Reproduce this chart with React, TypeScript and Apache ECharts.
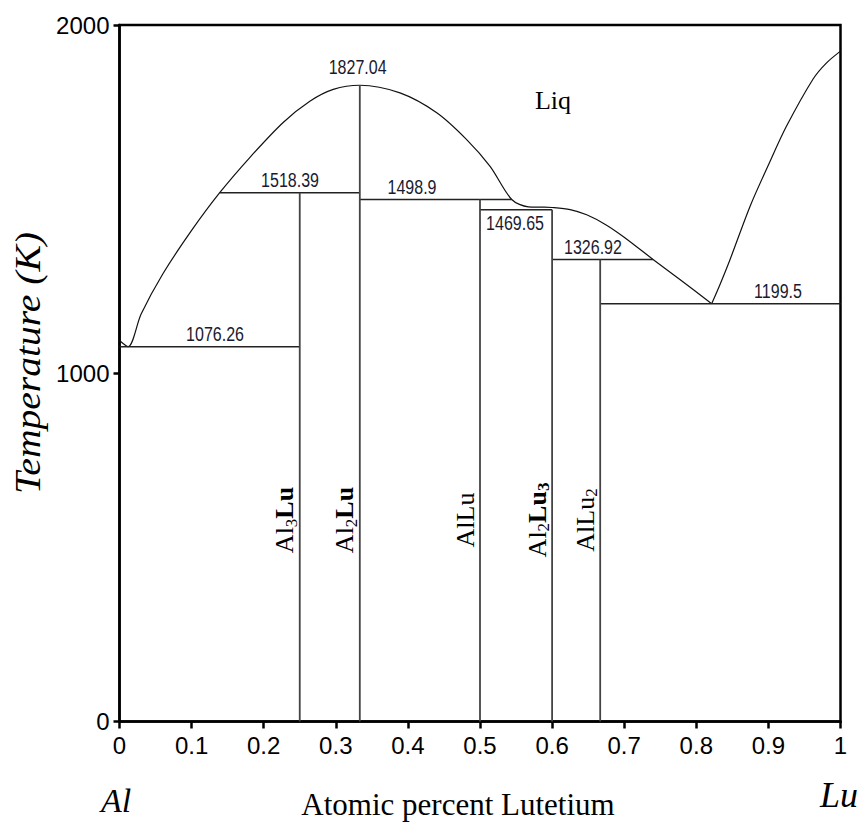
import React, { useEffect, useRef } from 'react';
import * as echarts from 'echarts';

// Liquidus (Al side to eutectic near Lu side)
const liquidusX = [0, 0.012, 0.03, 0.06, 0.1, 0.139, 0.181, 0.227, 0.264, 0.2965, 0.3333, 0.389, 0.44, 0.4815, 0.514, 0.544, 0.567, 0.585, 0.6, 0.625, 0.648, 0.675, 0.699, 0.74, 0.78, 0.8213];
const liquidusT = [1094, 1076.26, 1170, 1285, 1410, 1518.39, 1620, 1720, 1781, 1815, 1827.04, 1805, 1748, 1671, 1594, 1498.9, 1478, 1477, 1476, 1470, 1455, 1426, 1392, 1326.92, 1265, 1199.5];
// Liquidus (eutectic to pure Lu)
const lutetiumSideX = [0.8213, 0.8329, 0.8467, 0.8745, 0.9, 0.925, 0.962, 0.98, 1.0];
const lutetiumSideT = [1199.5, 1255, 1326, 1479, 1598, 1709, 1845, 1890, 1925];

// Invariant (horizontal) reactions
const invariantT = [1076.26, 1518.39, 1498.9, 1469.65, 1326.92, 1199.5];
const invariantFrom = [0, 0.139, 0.3333, 0.5, 0.6, 0.6667];
const invariantTo = [0.25, 0.3333, 0.544, 0.6, 0.74, 1];

// Compounds (vertical lines)
const compoundNames = ['Al3Lu', 'Al2Lu', 'AlLu', 'Al2Lu3', 'AlLu2'];
const compoundX = [0.25, 0.3333, 0.5, 0.6, 0.6667];
const compoundTop = [1518.39, 1827.04, 1498.9, 1469.65, 1326.92];
const congruentPoint = [0.3333, 1827.04];

// layout: where the invariant temperature labels sit (data x)
const invariantLabelX = [0.1325, 0.2365, 0.4057, 0.5486, 0.6567, 0.9133];

const NUM_FONT = "'Liberation Sans', Arial, sans-serif";
const SERIF = "'Liberation Serif', 'Times New Roman', serif";
const SANS = "'Liberation Sans', Arial, sans-serif";

const compoundRich: Record<string, string> = {
  Al3Lu: '{n|Al}{s|3}{b|Lu}',
  Al2Lu: '{n|Al}{s|2}{b|Lu}',
  AlLu: '{n|AlLu}',
  Al2Lu3: '{n|Al}{s|2}{b|Lu}{sb|3}',
  AlLu2: '{n|AlLu}{s|2}',
};

export default function App() {
  const ref = useRef<HTMLDivElement>(null);
  useEffect(() => {
    if (!ref.current) return;
    const chart = echarts.init(ref.current, undefined, { renderer: 'svg' });
    const lineStyleCurve = { color: '#111', width: 1.2 };
    const series: any[] = [];
    series.push({
      type: 'line', data: liquidusX.map((x, i) => [x, liquidusT[i]]), showSymbol: false,
      smooth: 0.3, lineStyle: lineStyleCurve, silent: true,
    });
    series.push({
      type: 'line', data: lutetiumSideX.map((x, i) => [x, lutetiumSideT[i]]), showSymbol: false,
      smooth: 0.3, lineStyle: lineStyleCurve, silent: true,
    });
    invariantT.forEach((t, i) => {
      series.push({
        type: 'line', data: [[invariantFrom[i], t], [invariantTo[i], t]], showSymbol: false,
        lineStyle: { color: '#222', width: 1.5 }, silent: true,
      });
    });
    compoundX.forEach((x, i) => {
      series.push({
        type: 'line', data: [[x, 0], [x, compoundTop[i]]], showSymbol: false,
        lineStyle: { color: '#444', width: 1.8 }, silent: true,
      });
    });

    chart.setOption({
      animation: false,
      grid: { left: 119.5, right: 20.5, top: 25, bottom: 104.5, show: true, borderColor: '#000', borderWidth: 2.5 },
      xAxis: {
        type: 'value', min: 0, max: 1, interval: 0.1,
        axisLine: { show: true, lineStyle: { color: '#000', width: 2.5 } },
        axisTick: { show: true, length: 7, lineStyle: { color: '#000', width: 2.5 } },
        splitLine: { show: false },
        axisLabel: {
          color: '#000', fontSize: 24, fontFamily: SANS, margin: 12,
          formatter: (v: number) => String(+v.toFixed(1)),
        },
      },
      yAxis: {
        type: 'value', min: 0, max: 2000, interval: 1000,
        axisLine: { show: true, lineStyle: { color: '#000', width: 2.5 } },
        axisTick: { show: true, length: 6, lineStyle: { color: '#000', width: 2.5 } },
        splitLine: { show: false },
        axisLabel: { color: '#000', fontSize: 24, fontFamily: SANS, margin: 10, formatter: (v: number) => String(v) },
      },
      series,
    });

    const px = (x: number, y: number) => chart.convertToPixel({ gridIndex: 0 }, [x, y]) as number[];
    const graphics: any[] = [];
    const numStyle = (text: string, va: string) => ({
      text, fontSize: 20, fontFamily: NUM_FONT, fill: '#1a1a2e', align: 'center', verticalAlign: va,
    });
    // invariant labels
    invariantT.forEach((t, i) => {
      const p = px(invariantLabelX[i], t);
      const below = t === 1469.65;
      graphics.push({
        type: 'text', x: p[0], y: below ? p[1] + 4 : p[1] - 2, scaleX: 0.8, silent: true,
        style: numStyle(String(t), below ? 'top' : 'bottom'),
      });
    });
    {
      const p = px(congruentPoint[0] - 0.003, congruentPoint[1]);
      graphics.push({
        type: 'text', x: p[0], y: p[1] - 8, scaleX: 0.8, silent: true,
        style: numStyle(String(congruentPoint[1]), 'bottom'),
      });
    }
    // compound labels (rotated)
    compoundX.forEach((x, i) => {
      const p = px(x, 0);
      graphics.push({
        type: 'text', x: p[0] - 15, y: 520, rotation: Math.PI / 2, silent: true,
        style: {
          text: compoundRich[compoundNames[i]], align: 'center', verticalAlign: 'middle',
          fontFamily: SERIF, fontSize: 26, fill: '#000',
          rich: {
            n: { fontFamily: SERIF, fontSize: 26, lineHeight: 30, verticalAlign: 'middle', fill: '#000' },
            b: { fontFamily: SERIF, fontSize: 26, fontWeight: 'bold', lineHeight: 30, verticalAlign: 'middle', fill: '#000' },
            s: { fontFamily: SERIF, fontSize: 17, lineHeight: 17, verticalAlign: 'bottom', fill: '#000' },
            sb: { fontFamily: SERIF, fontSize: 17, fontWeight: 'bold', lineHeight: 17, verticalAlign: 'bottom', fill: '#000' },
          },
        },
      });
    });
    // Liq
    graphics.push({
      type: 'text', x: 553, y: 100, silent: true,
      style: { text: 'Liq', fontFamily: SERIF, fontSize: 26, fill: '#000', align: 'center', verticalAlign: 'middle' },
    });
    // axis names
    graphics.push({
      type: 'text', x: 28, y: 363, rotation: Math.PI / 2, scaleX: 1.1, silent: true,
      style: { text: 'Temperature (K)', fontFamily: SERIF, fontStyle: 'italic', fontSize: 36, fill: '#000', align: 'center', verticalAlign: 'middle' },
    });
    graphics.push({
      type: 'text', x: 458, y: 804, silent: true,
      style: { text: 'Atomic percent Lutetium', fontFamily: SERIF, fontSize: 31, fill: '#000', align: 'center', verticalAlign: 'middle' },
    });
    graphics.push({
      type: 'text', x: 116, y: 800, silent: true,
      style: { text: 'Al', fontFamily: SERIF, fontStyle: 'italic', fontSize: 34, fill: '#000', align: 'center', verticalAlign: 'middle' },
    });
    graphics.push({
      type: 'text', x: 839, y: 795, silent: true,
      style: { text: 'Lu', fontFamily: SERIF, fontStyle: 'italic', fontSize: 36, fill: '#000', align: 'center', verticalAlign: 'middle' },
    });
    chart.setOption({ graphic: graphics });

    return () => chart.dispose();
  }, []);
  return <div ref={ref} style={{ width: 861, height: 826, position: 'absolute', left: 0, top: 0, background: '#fff' }} />;
}
